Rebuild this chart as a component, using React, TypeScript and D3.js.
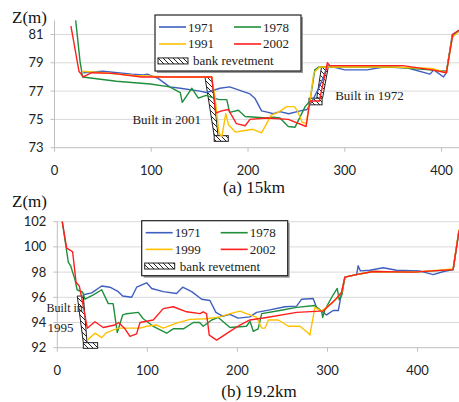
import React from 'react';
import * as d3 from 'd3';

type Pt = [number, number];

// ---- (a) 15km ----
const topYears = ['1971', '1978', '1991', '2002'];
const top1971: Pt[] = [[29.8, 78.3], [50, 78.4], [65, 78.3], [80, 78.2], [92, 78.15], [96, 78.2], [107, 77.9], [119, 77.3], [130, 77.2], [150, 77.0], [157, 76.9], [171, 77.2], [181, 77.3], [202, 76.8], [207, 76.5], [214, 75.6], [221, 75.5], [226, 75.4], [233, 75.55], [242, 75.4], [254, 75.6], [261, 75.7], [267, 76.4], [273, 77.2], [278, 78.0], [282, 78.8], [300, 78.5], [323, 78.5], [340, 78.7], [364, 78.65], [388, 78.2], [392, 78.5], [402, 78.0], [405, 78.3], [411, 81.0], [418, 81.3]];
const top1978: Pt[] = [[21.9, 82.0], [26.4, 79.1], [29, 78.0], [64, 77.7], [99, 77.5], [119, 77.3], [130, 76.9], [132, 76.2], [142, 77.2], [148.6, 76.5], [156.6, 76.7], [165, 76.5], [170, 76.4], [178, 76.4], [181, 75.5], [190, 75.65], [197, 75.2], [219, 75.1], [226, 75.15], [233, 75.1], [241.6, 74.5], [248.6, 74.45], [259, 75.9], [264, 76.3], [269, 78.5], [273, 78.7], [280, 78.7], [300, 78.7], [350, 78.7], [388, 78.5], [405, 78.4], [411, 80.8], [418, 81.3]];
const top1991: Pt[] = [[29, 78.4], [50, 78.3], [81.5, 78.1], [120, 78.0], [162.5, 78.0], [166, 76.5], [170, 74.0], [173, 73.8], [177, 75.4], [180, 74.6], [187, 74.1], [195, 74.2], [205, 74.3], [214, 74.05], [224, 75.3], [231, 75.5], [240, 75.9], [248, 75.9], [251, 75.6], [256, 74.8], [260, 74.7], [264, 76.3], [268, 78.3], [274, 78.7], [290, 78.7], [350, 78.7], [390, 78.6], [405, 78.3], [411, 80.8], [418, 81.2]];
const top2002: Pt[] = [[17, 81.6], [25.3, 78.4], [29.8, 78.0], [38.4, 78.3], [60, 78.25], [90, 78.0], [130, 78.0], [162.5, 78.0], [166.6, 75.45], [172.8, 75.6], [179.6, 75.7], [188, 74.7], [197, 74.55], [202, 75.0], [219, 75.1], [241.6, 75.0], [260, 74.5], [264, 76.3], [273.7, 76.3], [282, 79.0], [284.5, 78.8], [320, 78.8], [360, 78.8], [390, 78.5], [405, 78.3], [411.6, 81.0], [418, 81.3]];

// ---- (b) 19.2km ----
const botYears = ['1971', '1978', '1999', '2002'];
const bot1971: Pt[] = [[28.9, 96.2], [38.2, 96.35], [49.3, 96.9], [58.5, 96.8], [67.7, 96.45], [72.6, 96.1], [82.6, 96.0], [88.1, 96.8], [99.2, 97.15], [104.8, 96.7], [117.6, 96.45], [132.4, 96.3], [139.2, 96.8], [149.2, 96.45], [160.3, 95.85], [169.5, 95.75], [176.1, 94.8], [183.5, 94.5], [191.7, 94.65], [200.8, 94.35], [213.8, 94.45], [221.3, 94.8], [236, 95.0], [252.7, 95.25], [265.7, 95.3], [271.3, 95.85], [284.1, 95.9], [287.8, 95.2], [299, 94.6], [306.3, 94.95], [312, 94.95], [315.7, 96.4], [319.3, 97.6], [332.3, 97.8], [334, 98.5], [336.5, 98.1], [347, 98.15], [361.8, 98.35], [376.6, 98.15], [402, 98.1], [417.4, 97.8], [429, 98.05], [439.5, 98.2], [446, 101.3]];
const bot1978: Pt[] = [[5.5, 102], [12.2, 98.8], [14.8, 98.5], [19.6, 97.4], [22, 96.6], [28.2, 96.4], [30.7, 95.85], [40, 96.2], [49.3, 96.6], [56.6, 95.5], [62, 95.5], [66.6, 93.2], [72.6, 94.6], [77, 94.7], [90, 94.8], [95.4, 94.3], [106.5, 93.7], [121.4, 93.15], [128.7, 93.5], [140, 93.5], [151, 94.0], [158, 94.0], [162, 93.7], [171.4, 94.2], [178.7, 94.4], [191.7, 93.6], [210, 93.7], [214, 94.1], [217.6, 93.3], [223, 93.5], [226.9, 94.7], [247, 94.95], [265.7, 95.2], [286, 95.35], [293.4, 94.9], [294.6, 94.4], [297, 95.0], [306.3, 96.2], [310.8, 96.7], [313, 95.8], [316, 96.2], [319.3, 97.6], [332, 97.8], [350.7, 98.05], [395, 98.0], [439.5, 98.2], [446, 101.3]];
const bot1999: Pt[] = [[33.3, 92.6], [41.8, 93.15], [49.3, 92.8], [54.8, 93.2], [67.7, 93.55], [78.8, 93.55], [91.8, 93.55], [99.2, 93.7], [110.3, 93.8], [117.6, 93.55], [132.4, 93.95], [147.3, 94.25], [165.7, 94.3], [180.6, 94.45], [191.7, 94.7], [202.8, 94.9], [210, 94.7], [221.3, 94.4], [226.9, 93.55], [230.6, 93.55], [234.3, 94.2], [245.4, 94.2], [256.5, 93.7], [269.4, 93.7], [278, 93.2], [280.4, 93.0], [286, 95.2], [293.4, 94.9], [306, 95.6], [315.7, 96.4], [319.3, 97.6], [332, 97.8], [350.7, 98.05], [395, 98.0], [439.5, 98.25], [446, 101.4]];
const bot2002: Pt[] = [[5.5, 102], [10.4, 99.9], [14.1, 99.75], [17, 99.6], [20.8, 97.2], [24.4, 96.9], [27, 96.0], [33.3, 93.55], [41.8, 94.06], [51, 93.6], [64, 93.8], [68, 94.0], [75.1, 93.5], [80.7, 92.9], [88, 93.1], [91.8, 94.0], [106.5, 94.2], [117.6, 95.1], [128.7, 95.25], [143.6, 94.85], [158.4, 94.7], [162, 94.85], [165.7, 94.7], [168.7, 93.0], [176.9, 92.6], [191.7, 93.3], [202.8, 93.8], [213.8, 94.2], [232.4, 94.4], [265.7, 94.8], [291.6, 94.9], [295, 94.9], [310, 95.9], [315.7, 96.4], [319.3, 97.6], [332, 97.8], [350.7, 98.05], [395, 98.0], [439.5, 98.2], [446, 101.3]];

// revetments: wall [xTop0, xTop1, zTop, xBot0, xBot1, zBot], foot [x0, x1, z0, z1]
const topWalls = [[155.5, 162.5, 78.0, 165, 169, 73.85], [276, 283, 78.74, 271, 277, 76.5]];
const topFeet = [[165, 179.6, 73.45, 73.85], [263, 276.5, 76.03, 76.5]];
const botWalls = [[22.2, 28.9, 96.1, 28.9, 33, 92.4]];
const botFeet = [[28.9, 44.8, 91.95, 92.4]];

const xTicks = [0, 100, 200, 300, 400];
const topYTicks = [73, 75, 77, 79, 81];
const botYTicks = [92, 94, 96, 98, 100, 102];

const colors = ['#3f5fc0', '#1f8f3c', '#ffc000', '#ff1f1f'];
const serif = '"Liberation Serif", "Times New Roman", serif';
const sans = 'Lato, "Liberation Sans", sans-serif';

interface PanelProps {
  id: string;
  series: Pt[][];
  years: string[];
  xDomain: [number, number];
  xRange: [number, number];
  yDomain: [number, number];
  yRange: [number, number];
  yTicks: number[];
  walls: number[][];
  feet: number[][];
  legend: { x: number; y: number; w: number; h: number };
  notes: { x: number; z: number; text: string; size?: number }[];
}

const Panel: React.FC<PanelProps> = ({ id, series, years, xDomain, xRange, yDomain, yRange, yTicks, walls, feet, legend, notes }) => {
  const x = d3.scaleLinear().domain(xDomain).range(xRange);
  const y = d3.scaleLinear().domain(yDomain).range(yRange);
  const line = d3.line<Pt>().x(d => x(d[0])).y(d => y(d[1]));
  const [left, right] = xRange;
  const bottom = yRange[0];
  const topY = yRange[1];
  const rowH = legend.h / 3.3;

  return (
    <g>
      <defs>
        <clipPath id={`clip-${id}`}>
          <rect x={left} y={topY - 2} width={right - left} height={bottom - topY + 4} />
        </clipPath>
      </defs>
      {/* grid */}
      {yTicks.map(t => (
        <g key={t}>
          <line x1={left} x2={right} y1={y(t)} y2={y(t)} stroke={t === yDomain[0] ? '#bfbfbf' : '#d9d9d9'} strokeWidth={1} />
          <line x1={left - 4} x2={left} y1={y(t)} y2={y(t)} stroke="#bfbfbf" />
          <text x={left - 11} y={y(t) + 4.5} textAnchor="end" fontFamily={sans} fontSize={13} fill="#222">{t}</text>
        </g>
      ))}
      <line x1={left} x2={left} y1={bottom} y2={topY} stroke="#bfbfbf" />
      {xTicks.map(t => (
        <g key={t}>
          <line x1={x(t)} x2={x(t)} y1={bottom} y2={bottom + 4} stroke="#bfbfbf" />
          <text x={x(t)} y={bottom + 27} textAnchor="middle" fontFamily={sans} fontSize={13} fill="#222">{t}</text>
        </g>
      ))}
      {/* bank revetment */}
      {walls.map((w, i) => (
        <polygon key={`w${i}`}
          points={[[w[0], w[2]], [w[1], w[2]], [w[4], w[5]], [w[3], w[5]]].map(p => `${x(p[0])},${y(p[1])}`).join(' ')}
          fill="url(#hatch)" stroke="#222" strokeWidth={1} />
      ))}
      {feet.map((f, i) => (
        <rect key={`f${i}`} x={x(f[0])} y={y(f[3])} width={x(f[1]) - x(f[0])} height={y(f[2]) - y(f[3])}
          fill="url(#hatch)" stroke="#222" strokeWidth={1} />
      ))}
      {/* profiles */}
      <g clipPath={`url(#clip-${id})`}>
        {series.map((s, i) => (
          <path key={i} d={line(s) || ''} fill="none" stroke={colors[i]} strokeWidth={1.4} strokeLinejoin="round" />
        ))}
      </g>
      {notes.map((n, i) => (
        <text key={i} x={x(n.x)} y={y(n.z)} fontFamily={serif} fontSize={n.size || 13} fill="#222">{n.text}</text>
      ))}
      {/* legend */}
      <rect x={legend.x + 2} y={legend.y + 2} width={legend.w} height={legend.h} fill="#999" />
      <rect x={legend.x} y={legend.y} width={legend.w} height={legend.h} fill="#fff" stroke="#222" strokeWidth={1.2} />
      {years.map((yr, i) => {
        const col = i % 2;
        const row = Math.floor(i / 2);
        const lx = legend.x + 4 + col * 75;
        const ly = legend.y + 12 + row * rowH;
        return (
          <g key={yr}>
            <line x1={lx} x2={lx + 27} y1={ly} y2={ly} stroke={colors[i]} strokeWidth={1.6} />
            <text x={lx + 29} y={ly + 4.5} fontFamily={serif} fontSize={13} fill="#222">{yr}</text>
          </g>
        );
      })}
      <rect x={legend.x + 3} y={legend.y + 12 + 2 * rowH - 3} width={30} height={6} fill="url(#hatch)" stroke="#222" strokeWidth={1} />
      <text x={legend.x + 38} y={legend.y + 12 + 2 * rowH + 4.5} fontFamily={serif} fontSize={13} fill="#222">bank revetment</text>
    </g>
  );
};

const App: React.FC = () => {
  return (
    <svg width={459} height={402} style={{ position: 'absolute', left: 0, top: 0, background: '#fff' }}>
      <defs>
        <pattern id="hatch" patternUnits="userSpaceOnUse" width={5} height={5}>
          <rect width={5} height={5} fill="#fff" />
          <path d="M0,0 L5,5 M-1,4 L1,6 M4,-1 L6,1" stroke="#222" strokeWidth={1} />
        </pattern>
      </defs>
      <text x={12} y={23} fontFamily={serif} fontSize={17} fill="#111">Z(m)</text>
      <Panel id="a" series={[top1971, top1978, top1991, top2002]} years={topYears}
        xDomain={[0, 418]} xRange={[54.5, 459]} yDomain={[73, 82]} yRange={[147.7, 20.35]}
        yTicks={topYTicks} walls={topWalls} feet={topFeet}
        legend={{ x: 155, y: 15, w: 146, h: 56 }}
        notes={[{ x: 80.5, z: 74.7, text: 'Built in 2001' }, { x: 290, z: 76.4, text: 'Built in 1972' }]} />
      <text x={254} y={193} textAnchor="middle" fontFamily={serif} fontSize={17} fill="#111">(a) 15km</text>

      <text x={12} y={207} fontFamily={serif} fontSize={17} fill="#111">Z(m)</text>
      <Panel id="b" series={[bot1971, bot1978, bot1999, bot2002]} years={botYears}
        xDomain={[0, 446]} xRange={[57.3, 459]} yDomain={[92, 102]} yRange={[347.7, 221.7]}
        yTicks={botYTicks} walls={botWalls} feet={botFeet}
        legend={{ x: 141.7, y: 220.7, w: 146, h: 55 }}
        notes={[{ x: -12, z: 94.8, text: 'Built in', size: 12 }, { x: -11, z: 93.25, text: '1995' }]} />
      <text x={259} y={397} textAnchor="middle" fontFamily={serif} fontSize={17} fill="#111">(b) 19.2km</text>
    </svg>
  );
};

export default App;
